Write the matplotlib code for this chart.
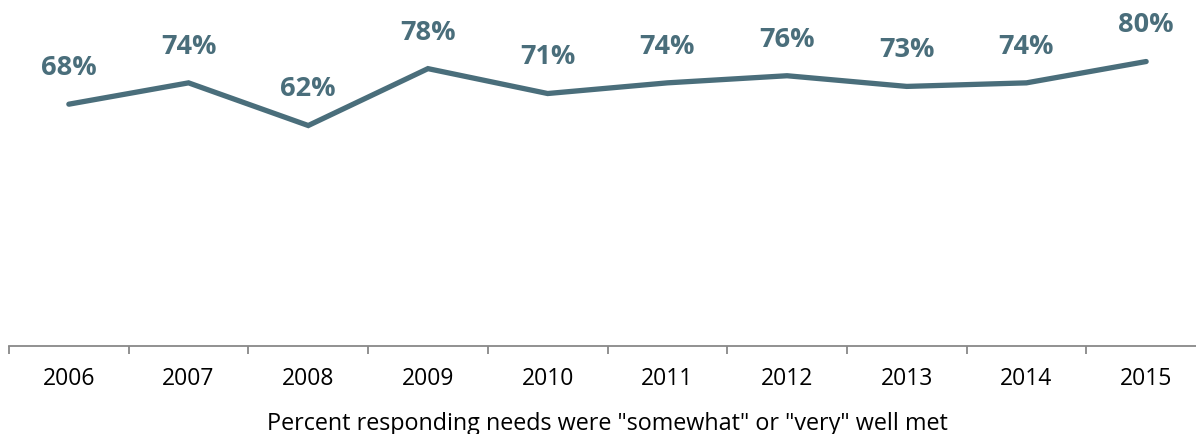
import numpy as np
import matplotlib
matplotlib.use('Agg')
import matplotlib.pyplot as plt

years = ['2006', '2007', '2008', '2009', '2010', '2011', '2012', '2013', '2014', '2015']
pct_met = [68, 74, 62, 78, 71, 74, 76, 73, 74, 80]

line_color = '#4A6E7B'
plt.rcParams['font.family'] = ['Open Sans', 'DejaVu Sans']

fig = plt.figure(figsize=(11.96, 4.34), dpi=100)
# plot area runs slightly past the right edge of the canvas
ax = fig.add_axes([9 / 1196, 88 / 434, 1197 / 1196, 346 / 434])

x = np.arange(len(years))
ax.plot(x, pct_met, color=line_color, linewidth=3.8, solid_capstyle='round', solid_joinstyle='miter')

# value labels above each point
for xi, v in zip(x, pct_met):
    ax.annotate(f'{v}%', (xi, v), xytext=(0, 26), textcoords='offset points',
                ha='center', va='center', fontsize=19.5, fontweight='bold', color=line_color)

ax.set_xlim(-0.5, len(years) - 0.5)
ax.set_ylim(0, 97.3)

# category-boundary ticks, labels centred between them
ax.set_xticks(np.arange(-0.5, len(years)), minor=False)
ax.set_xticklabels([])
ax.tick_params(axis='x', which='major', length=6, width=1.3, color='#888888')
ax.set_xticks(x, minor=True)
ax.set_xticklabels(years, minor=True)
ax.tick_params(axis='x', which='minor', length=0, pad=15, labelsize=16.5)
ax.set_yticks([])

for s in ['top', 'right', 'left']:
    ax.spines[s].set_visible(False)
ax.spines['bottom'].set_color('#888888')
ax.spines['bottom'].set_linewidth(1.3)

ax.set_xlabel('Percent responding needs were "somewhat" or "very" well met', fontsize=16.8, labelpad=15)

fig.savefig('out.png', dpi=100)
